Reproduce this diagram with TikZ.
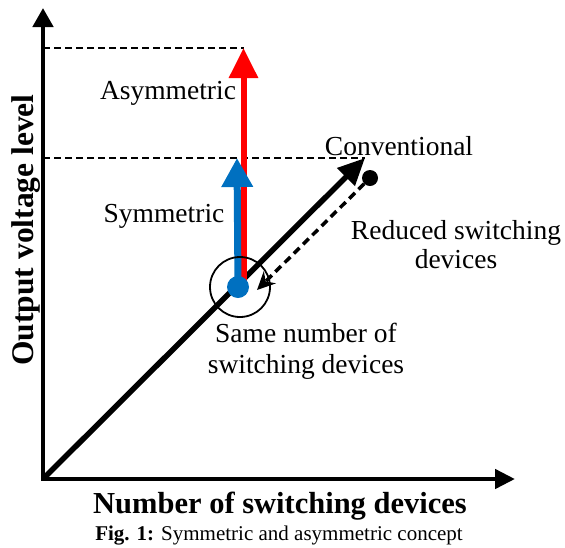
\documentclass[tikz,border=0pt]{standalone}
\usepackage{fontspec}
\setmainfont{Liberation Serif}
\usetikzlibrary{arrows.meta}
\definecolor{levR}{RGB}{255,0,0}
\definecolor{levB}{RGB}{0,112,192}
\tikzset{
  lbl/.style={font=\fontsize{27.5}{29}\selectfont, inner sep=0pt, align=center},
  axlbl/.style={font=\bfseries\fontsize{30.5}{34}\selectfont, inner sep=0pt},
  guide/.style={line width=1.7pt, dash pattern=on 7pt off 4pt}
}

\begin{document}
\begin{tikzpicture}[x=1pt, y=-1pt]
\useasboundingbox (0,0) rectangle (565,547);
% ===== axes =====
\coordinate (O) at (43,479);
\coordinate (ytip) at (43,8);
\coordinate (xtip) at (515,479);
\draw[line width=4.5pt, {Triangle[length=19pt, width=20pt]}-{Triangle[length=20pt, width=19pt]}] (ytip) -- (O) -- (xtip);
\node[axlbl, font=\bfseries\fontsize{31.5}{34}\selectfont, rotate=90, anchor=base] (ylab) at (34,230) {Output voltage level};
\node[axlbl, anchor=base] (xlab) at (280,513) {Number of switching devices};
\node[font=\fontsize{21}{23}\selectfont, inner sep=0pt, anchor=base] (cap) at (279,540) {\textbf{Fig. 1:} Symmetric and asymmetric concept};
% ===== output levels (dashed guides) =====
\coordinate (ya) at (43,48);
\coordinate (ys) at (43,158);
\coordinate (asym) at (243.5,48);
\coordinate (conv) at (365,158);
\draw[guide] (ya) -- (asym);
\draw[guide] (ys) -- (conv);
% ===== conventional: straight line from origin =====
\draw[line width=5.5pt, -{Triangle[length=27pt, width=24pt]}] (O) -- (conv);
\node[lbl, anchor=base] (convlab) at (399,155) {Conventional};
% ===== asymmetric (red) and symmetric (blue) =====
\coordinate (rbot) at (243.5,292);
\coordinate (sym) at (237,158);
\draw[levR, line width=6pt, line cap=round, -{Triangle[length=30pt, width=28pt]}] (rbot) -- (asym);
\node[circle, fill=levB, minimum size=22pt, inner sep=0pt] (bdot) at (238,287) {};
\draw[levB, line width=7pt, -{Triangle[length=29pt, width=30pt]}] (bdot.center) -- (sym);
\node[lbl, anchor=base] (asymlab) at (168,99) {Asymmetric};
\node[lbl, anchor=base] (symlab) at (164,222) {Symmetric};
% ring round the common starting point
\node[circle, draw, line width=1.8pt, minimum size=60pt, inner sep=0pt] (ring) at (240,287) {};
\node[lbl, font=\fontsize{27.5}{31}\selectfont, anchor=base] (samelab) at (306,373) {Same number of\\switching devices};
% ===== reduced switching devices =====
\node[circle, fill, minimum size=16pt, inner sep=0pt] (cdot) at (370,178) {};
\coordinate (red) at (257,290);
\draw[line width=3.5pt, dash pattern=on 8pt off 5pt, -{Stealth[length=18pt, width=17pt]}] (cdot) -- (red);
\node[lbl, anchor=base] (redlab) at (456,268) {Reduced switching\\devices};
\end{tikzpicture}
\end{document}
